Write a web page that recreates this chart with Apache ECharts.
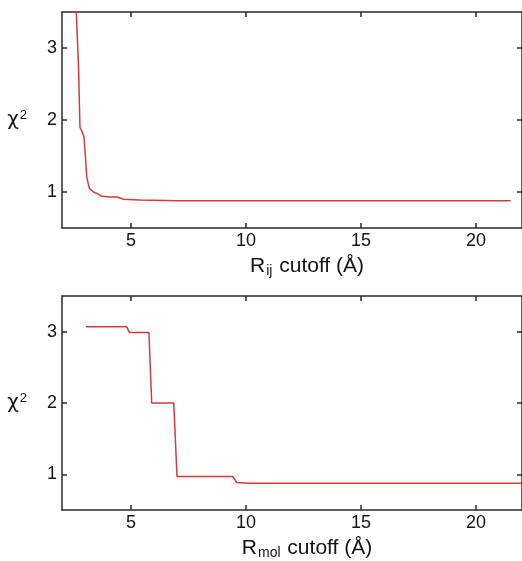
<!DOCTYPE html>
<html>
<head>
<meta charset="utf-8">
<script src="https://cdn.jsdelivr.net/npm/echarts@6/dist/echarts.min.js"></script>
<style>
  html, body { margin: 0; padding: 0; background: #fff; }
  #chart { width: 522px; height: 561px; }
</style>
</head>
<body>
<div id="chart"></div>
<script>
// Upper panel: chi-squared versus pair cutoff R_ij
const rijCutoff = [2.60, 2.62, 2.72, 2.78, 2.87, 2.96, 3.02, 3.08, 3.19, 3.37, 3.52, 3.73, 4.09, 4.40, 4.67, 5.40, 7.00, 21.50];
const rijChi2   = [3.75, 3.50, 2.73, 1.90, 1.84, 1.76, 1.48, 1.20, 1.05, 1.00, 0.98, 0.94, 0.93, 0.93, 0.90, 0.89, 0.88, 0.88];

// Lower panel: chi-squared versus molecular cutoff R_mol (step-like)
const rmolCutoff = [3.04, 4.81, 4.93, 5.78, 5.90, 6.86, 7.00, 9.42, 9.60, 10.10, 22.00];
const rmolChi2   = [3.07, 3.07, 2.99, 2.99, 2.00, 2.00, 0.97, 0.97, 0.885, 0.875, 0.875];

// Tick positions
const xTicks = [5, 10, 15, 20];
const yTicks = [1, 2, 3];

const FONT = "'Liberation Sans', Arial, Helvetica, sans-serif";
const INK = '#141414';
const AXIS = '#2a2a2a';
const RED = '#d43c3c';

const zip = (a, b) => a.map((v, i) => [v, b[i]]);

function xAxes(gridIndex, rich, name) {
  const line = { show: true, lineStyle: { color: AXIS, width: 1.5 } };
  const tick = { show: true, inside: true, length: 5, lineStyle: { color: AXIS, width: 1.5 }, customValues: xTicks };
  return [
    {
      type: 'value', gridIndex, position: 'bottom', min: 2, max: 22,
      axisLine: line, axisTick: tick, splitLine: { show: false },
      axisLabel: { customValues: xTicks, color: INK, fontSize: 18, fontFamily: FONT, margin: 4 },
      name, nameLocation: 'middle', nameGap: 27,
      nameTextStyle: { rich, padding: [0, 0, 0, 30] }
    },
    {
      type: 'value', gridIndex, position: 'top', min: 2, max: 22,
      axisLine: line, axisTick: tick, splitLine: { show: false },
      axisLabel: { show: false }
    }
  ];
}

function yAxes(gridIndex) {
  const line = { show: true, lineStyle: { color: AXIS, width: 1.5 } };
  const tick = { show: true, inside: true, length: 5, lineStyle: { color: AXIS, width: 1.5 }, customValues: yTicks };
  return [
    {
      type: 'value', gridIndex, position: 'left', min: 0.5, max: 3.5,
      axisLine: line, axisTick: tick, splitLine: { show: false },
      axisLabel: { customValues: yTicks, color: INK, fontSize: 18, fontFamily: FONT, margin: 5 },
      name: '{c|χ}{p|2}', nameLocation: 'middle', nameRotate: 0, nameGap: 35,
      nameTextStyle: {
        rich: {
          c: { fontSize: 20, fontFamily: "'DejaVu Sans', sans-serif", color: INK, lineHeight: 22 },
          p: { fontSize: 13, fontFamily: FONT, color: INK, lineHeight: 13, padding: [0, 0, 9, 1] }
        }
      }
    },
    {
      type: 'value', gridIndex, position: 'right', min: 0.5, max: 3.5,
      axisLine: line, axisTick: tick, splitLine: { show: false },
      axisLabel: { show: false }
    }
  ];
}

const richSub = {
  r: { fontSize: 21, fontFamily: FONT, color: INK, lineHeight: 22 },
  s: { fontSize: 14, fontFamily: FONT, color: INK, lineHeight: 14, padding: [10, 1, 0, 1] }
};

const chart = echarts.init(document.getElementById('chart'), null, { renderer: 'canvas' });

chart.setOption({
  backgroundColor: '#ffffff',
  animation: false,
  grid: [
    { left: 62, top: 12, right: -2, height: 216 },
    { left: 62, top: 296, right: -2, height: 216 }
  ],
  xAxis: [
    ...xAxes(0, richSub, '{r|R}{s|ij}{r| cutoff (Å)}'),
    ...xAxes(1, richSub, '{r|R}{s|mol}{r| cutoff (Å)}')
  ],
  yAxis: [
    ...yAxes(0),
    ...yAxes(1)
  ],
  series: [
    {
      type: 'line', xAxisIndex: 0, yAxisIndex: 0,
      data: zip(rijCutoff, rijChi2),
      showSymbol: false, clip: true,
      lineStyle: { color: RED, width: 1.5 }
    },
    {
      type: 'line', xAxisIndex: 2, yAxisIndex: 2,
      data: zip(rmolCutoff, rmolChi2),
      showSymbol: false, clip: true,
      lineStyle: { color: RED, width: 1.5 }
    }
  ]
});
</script>
</body>
</html>
